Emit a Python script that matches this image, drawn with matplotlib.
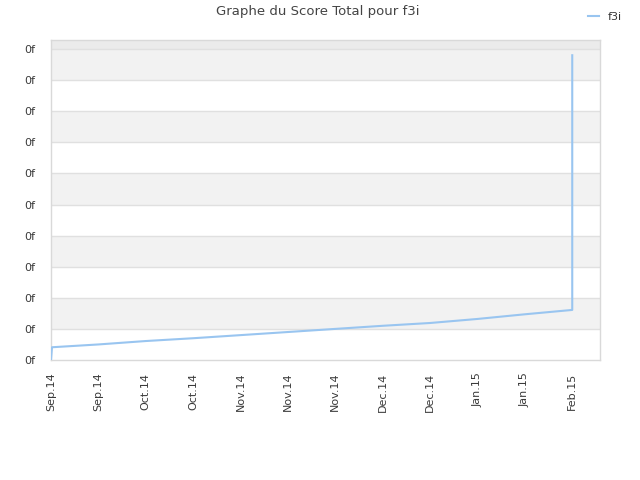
import matplotlib
matplotlib.use("Agg")
import matplotlib.pyplot as plt
import numpy as np

# Data (days since start of series, score values)
days = [0, 0.3, 14, 28, 42, 56, 70, 84, 98, 112, 126, 140, 154, 154]
scores = [0.0, 0.41, 0.50, 0.61, 0.70, 0.80, 0.90, 1.00, 1.10, 1.19, 1.32, 1.47, 1.61, 9.8]
tick_days = [0, 14, 28, 42, 56, 70, 84, 98, 112, 126, 140, 154]
tick_labels = ["Sep.14", "Sep.14", "Oct.14", "Oct.14", "Nov.14", "Nov.14",
               "Nov.14", "Dec.14", "Dec.14", "Jan.15", "Jan.15", "Feb.15"]
y_ticks = list(range(11))
y_labels = ["0f"] * 11
series_name = "f3i"
title = "Graphe du Score Total pour f3i"

fig = plt.figure(figsize=(6.4, 4.8), dpi=100)
ax = fig.add_axes([51/640, 1-360/480, (600-51)/640, (360-40)/480])

xmax = 162.2
ymax = 10.29
ax.set_xlim(0, xmax)
ax.set_ylim(0, ymax)

# alternating bands
for i in range(10):
    if i % 2 == 1:
        ax.axhspan(i, i+1, color="#f2f2f2", zorder=0, lw=0)
ax.axhspan(10, ymax, color="#ebebeb", zorder=0, lw=0)
for y in y_ticks[1:]:
    ax.axhline(y, color="#e0e0e0", lw=1, zorder=1)

ax.plot(days, scores, color="#99c5f0", lw=1.5, zorder=3, label=series_name)

ax.set_xticks(tick_days)
ax.set_xticklabels(tick_labels, rotation=90, fontsize=8, color="#3a3a3a")
ax.set_yticks(y_ticks)
ax.set_yticklabels(y_labels, fontsize=8, color="#3a3a3a")
ax.tick_params(length=0)
ax.tick_params(axis="y", pad=11)
ax.tick_params(axis="x", pad=9)

for s in ax.spines.values():
    s.set_color("#d9d9d9")
    s.set_linewidth(1)

fig.text(318/640, 1-12/480, title, ha="center", va="center", fontsize=9.5, color="#444444")
leg = fig.legend(loc="upper right", bbox_to_anchor=(632/640, 1-2/480), frameon=False,
                 fontsize=8, handlelength=1.0, handletextpad=0.8)
for t in leg.get_texts():
    t.set_color("#333333")

fig.savefig("out.png", dpi=100)
